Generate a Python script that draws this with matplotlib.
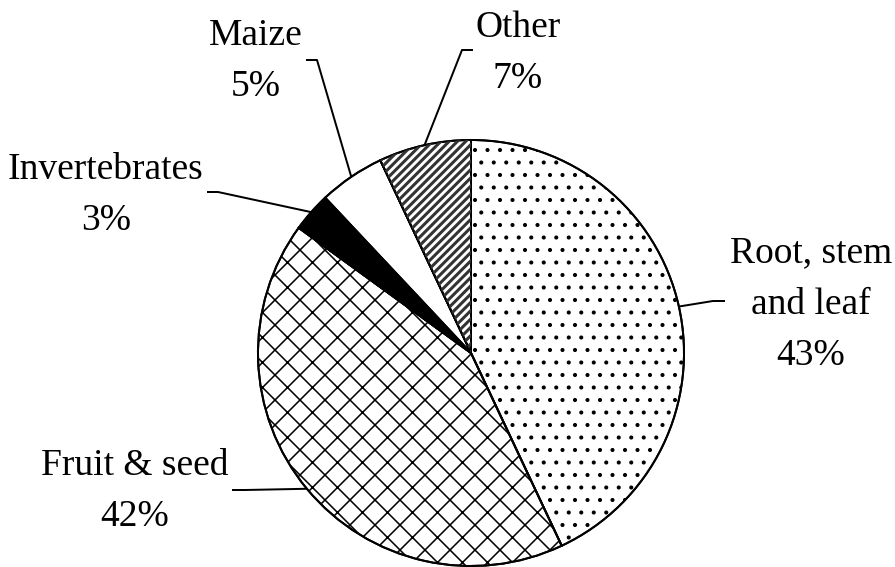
import matplotlib
matplotlib.use("Agg")
import matplotlib.pyplot as plt
from matplotlib.collections import LineCollection
import numpy as np

# data
categories = ["Root, stem and leaf", "Fruit & seed", "Invertebrates", "Maize", "Other"]
shares = [43, 42, 3, 5, 7]
label_lines = [["Root, stem", "and leaf"], ["Fruit & seed"], ["Invertebrates"], ["Maize"], ["Other"]]

# styling per slice
faces = ["white", "white", "black", "white", "white"]
hatches = [".", "x", None, None, None]

# label layout in pixels (top-left origin): centre x, first baseline, leader elbow points
W, H = 895, 567
label_x = [811, 135, 106, 256, 518]
label_y0 = [262, 475, 179, 45, 37]
line_step = 51.5
leaders = [
    [(725, 301), (713, 301)],
    [(232, 490), (245, 490)],
    [(207, 192), (218, 192)],
    [(306, 60), (317, 60)],
    [(473, 50), (462, 50)],
]
centre = (471, H - 353)
radius = 213

DPI = 75
plt.rcParams["font.family"] = ["Liberation Serif", "DejaVu Serif"]
plt.rcParams["hatch.linewidth"] = 1.5

fig = plt.figure(figsize=(W / DPI, H / DPI), dpi=DPI)
ax = fig.add_axes([0, 0, 1, 1])

wedges, _ = ax.pie(shares, startangle=90, counterclock=False, center=centre,
                   radius=radius, colors=faces,
                   wedgeprops=dict(edgecolor="black", linewidth=1.9))
for w, h in zip(wedges, hatches):
    if h:
        w.set_hatch(h)

# heavy dark grey diagonal stripes for "Other", clipped to its wedge
step = 8.3
offsets = np.arange(-W, H, step)
segs = [[(0, c), (W, c + W)] for c in offsets]
stripes = LineCollection(segs, colors="#333333", linewidths=2.9)
ax.add_collection(stripes)
stripes.set_clip_path(wedges[4])

# black outlines on top
ax.pie(shares, startangle=90, counterclock=False, center=centre, radius=radius,
       wedgeprops=dict(fill=False, edgecolor="black", linewidth=1.9))

ax.set_xlim(0, W)
ax.set_ylim(0, H)
ax.set_aspect("equal")
ax.axis("off")

for i, w in enumerate(wedges):
    mid = np.deg2rad((w.theta1 + w.theta2) / 2)
    ex = centre[0] + radius * np.cos(mid)
    ey = centre[1] + radius * np.sin(mid)
    xs = [p[0] for p in leaders[i]] + [ex]
    ys = [H - p[1] for p in leaders[i]] + [ey]
    ax.plot(xs, ys, color="black", lw=1.9, solid_capstyle="butt")

    lines = label_lines[i] + [f"{shares[i]}%"]
    for k, line in enumerate(lines):
        ax.text(label_x[i], H - (label_y0[i] + k * line_step), line,
                ha="center", va="baseline", fontsize=36)

fig.savefig("out.png", dpi=DPI)
